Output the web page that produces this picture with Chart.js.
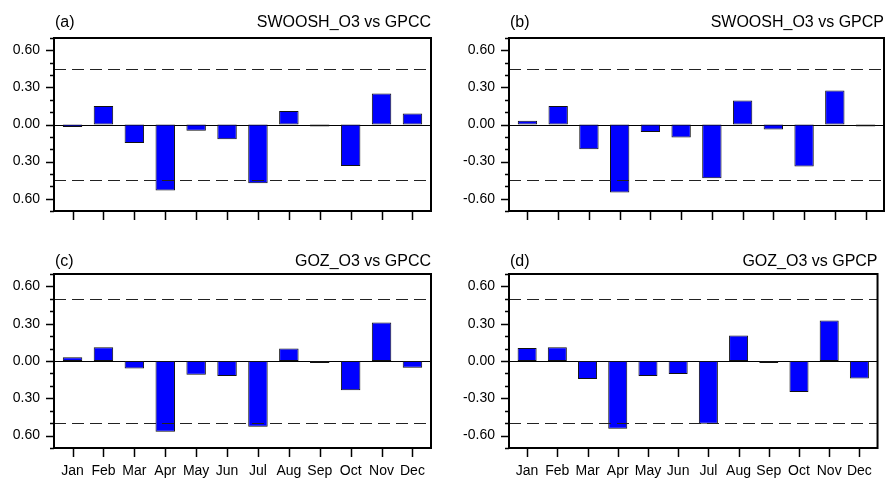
<!DOCTYPE html>
<html>
<head>
<meta charset="utf-8">
<script src="https://cdn.jsdelivr.net/npm/chart.js@4/dist/chart.umd.min.js"></script>
<style>
  body { margin: 0; background: #fff; }
  #wrap { position: relative; width: 887px; height: 481px; }
  #wrap canvas { position: absolute; }
</style>
</head>
<body>
<div id="wrap">
  <canvas id="pa" width="443" height="240" style="left:0;top:0"></canvas>
  <canvas id="pb" width="444" height="240" style="left:443px;top:0"></canvas>
  <canvas id="pc" width="443" height="241" style="left:0;top:240px"></canvas>
  <canvas id="pd" width="444" height="241" style="left:443px;top:240px"></canvas>
</div>
<script>
// monthly correlation coefficients
const months = ['Jan', 'Feb', 'Mar', 'Apr', 'May', 'Jun', 'Jul', 'Aug', 'Sep', 'Oct', 'Nov', 'Dec'];
const swooshGpcc = [-0.02, 0.15, -0.15, -0.535, -0.05, -0.12, -0.475, 0.11, -0.015, -0.335, 0.25, 0.09];
const swooshGpcp = [0.03, 0.15, -0.20, -0.55, -0.06, -0.105, -0.435, 0.195, -0.04, -0.34, 0.275, -0.015];
const gozGpcc = [0.03, 0.11, -0.06, -0.57, -0.11, -0.12, -0.53, 0.10, -0.008, -0.235, 0.31, -0.055];
const gozGpcp = [0.105, 0.11, -0.145, -0.545, -0.12, -0.105, -0.505, 0.205, -0.016, -0.25, 0.325, -0.14];

// significance thresholds (dashed lines)
const sigSwoosh = 0.45;
const sigGoz = 0.50;

// y axis: labelled major ticks and small minor ticks
const yMajor = [-0.6, -0.3, 0, 0.3, 0.6];
const yMinor = [-0.7, -0.5, -0.4, -0.2, -0.1, 0.1, 0.2, 0.4, 0.5, 0.7];

const FONT = 'Liberation Sans, Arial, Helvetica, sans-serif';

// draws the NCL style frame: zero line, dashed lines, box, tick marks, titles
const nclFrame = {
  id: 'nclFrame',
  beforeDatasetsDraw(chart, args, opts) {
    const { ctx, chartArea: a, scales: { y } } = chart;
    const y0 = Math.round(y.getPixelForValue(0)) + 0.5;
    ctx.save();
    ctx.strokeStyle = '#000';
    ctx.lineWidth = 1;
    ctx.beginPath();
    ctx.moveTo(a.left, y0);
    ctx.lineTo(a.right, y0);
    ctx.stroke();
    ctx.restore();
  },
  afterDatasetsDraw(chart, args, opts) {
    const { ctx, chartArea: a, scales: { x, y } } = chart;
    ctx.save();

    // dashed significance lines
    ctx.strokeStyle = '#222';
    ctx.lineWidth = 1;
    ctx.setLineDash([12, 6]);
    [opts.sig, -opts.sig].forEach(v => {
      const py = Math.round(y.getPixelForValue(v)) + 0.5;
      ctx.beginPath();
      ctx.moveTo(a.left, py);
      ctx.lineTo(a.right, py);
      ctx.stroke();
    });
    ctx.setLineDash([]);

    // tick marks
    ctx.strokeStyle = '#000';
    ctx.lineWidth = 1.5;
    ctx.beginPath();
    yMajor.forEach(v => {
      const py = Math.round(y.getPixelForValue(v)) + 0.5;
      ctx.moveTo(a.left - 8, py);
      ctx.lineTo(a.left, py);
    });
    yMinor.forEach(v => {
      const py = Math.round(y.getPixelForValue(v)) + 0.5;
      ctx.moveTo(a.left - 4, py);
      ctx.lineTo(a.left, py);
    });
    months.forEach((m, i) => {
      const px = Math.round(x.getPixelForValue(i)) + 0.5;
      ctx.moveTo(px, a.bottom);
      ctx.lineTo(px, a.bottom + 9);
    });
    ctx.stroke();

    // box
    ctx.lineWidth = 2;
    ctx.strokeRect(a.left, a.top, a.right - a.left, a.bottom - a.top);

    // titles
    ctx.fillStyle = '#000';
    ctx.font = '16px ' + FONT;
    ctx.textBaseline = 'alphabetic';
    ctx.textAlign = 'left';
    ctx.fillText(opts.label, a.left + 1, a.top - opts.gap);
    ctx.textAlign = 'right';
    ctx.fillText(opts.title, a.right, a.top - opts.gap);
    ctx.restore();
  }
};

const makePanel = (id, label, title, values, sig, showMonths, absLabels, yWidth, pad, xHeight, gap) => {
  const ctx = document.getElementById(id).getContext('2d');
  return new Chart(ctx, {
    type: 'bar',
    data: {
      datasets: [{
        data: values.map((v, i) => ({ x: i, y: v })),
        backgroundColor: '#0000ff',
        borderColor: '#111',
        borderWidth: 1,
        borderSkipped: false,
        minBarLength: 2,
        barPercentage: 0.63,
        categoryPercentage: 1
      }]
    },
    options: {
      responsive: false,
      animation: false,
      devicePixelRatio: 1,
      layout: { padding: pad },
      scales: {
        x: {
          type: 'linear',
          offset: false,
          min: -0.6,
          max: 11.6,
          afterBuildTicks: s => { s.ticks = months.map((m, i) => ({ value: i })); },
          afterFit: s => { s.height = xHeight; },
          grid: { display: false, drawTicks: false },
          border: { display: false },
          ticks: {
            display: showMonths,
            autoSkip: false,
            maxRotation: 0,
            padding: 15,
            color: '#000',
            font: { family: FONT, size: 14 },
            callback: v => months[v]
          }
        },
        y: {
          min: -0.7,
          max: 0.7,
          afterBuildTicks: s => { s.ticks = yMajor.map(v => ({ value: v })); },
          afterFit: s => { s.width = yWidth; },
          grid: { display: false, drawTicks: false },
          border: { display: false },
          ticks: {
            padding: 14,
            color: '#000',
            font: { family: FONT, size: 14 },
            callback: v => (absLabels ? Math.abs(v) : v).toFixed(2)
          }
        }
      },
      plugins: {
        legend: { display: false },
        tooltip: { enabled: false },
        nclFrame: { label, title, sig, gap }
      }
    },
    plugins: [nclFrame]
  });
};

makePanel('pa', '(a)', 'SWOOSH_O3 vs GPCC', swooshGpcc, sigSwoosh, false, true, 54, { top: 38, right: 12 }, 29, 11.5);
makePanel('pb', '(b)', 'SWOOSH_O3 vs GPCP', swooshGpcp, sigSwoosh, false, false, 66, { top: 38, right: 3 }, 29, 11.5);
makePanel('pc', '(c)', 'GOZ_O3 vs GPCC', gozGpcc, sigGoz, true, true, 54, { top: 34, right: 12 }, 33, 8);
makePanel('pd', '(d)', 'GOZ_O3 vs GPCP', gozGpcp, sigGoz, true, false, 66, { top: 34, right: 3 }, 33, 8);
</script>
</body>
</html>
